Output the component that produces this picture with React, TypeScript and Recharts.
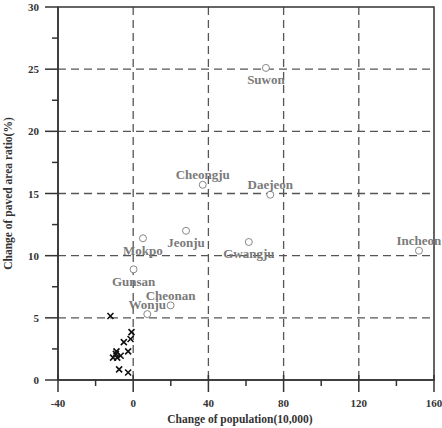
import { ScatterChart, Scatter, XAxis, YAxis, CartesianGrid, ReferenceArea, Label } from "recharts";

// labelled cities (population change in 10,000 / paved area ratio change in %)
const cities = ["Suwon", "Cheongju", "Daejeon", "Jeonju", "Mokpo", "Gwangju", "Incheon", "Gunsan", "Cheonan", "Wonju"];
const cityPop = [70.6, 37.0, 72.9, 28.1, 5.2, 61.5, 152.0, 0.2, 19.9, 7.5];
const cityPaved = [25.1, 15.7, 14.9, 12.0, 11.4, 11.1, 10.4, 8.9, 6.0, 5.3];

// unlabelled small cities near the origin
const otherPop = [-12.1, -0.9, -1.4, -5.0, -8.9, -2.7, -10.7, -8.5, -6.7, -9.2, -7.5, -2.7];
const otherPaved = [5.15, 3.85, 3.3, 3.05, 2.3, 2.3, 1.8, 1.8, 1.95, 2.1, 0.85, 0.6];

const xTicks = [-40, -20, 0, 20, 40, 60, 80, 100, 120, 140, 160];
const yTicks = [0, 2.5, 5, 7.5, 10, 12.5, 15, 17.5, 20, 22.5, 25, 27.5, 30];

// label placement: above or below the marker
const labelAbove: Record<string, boolean> = {
  Cheongju: true,
  Daejeon: true,
  Incheon: true,
  Cheonan: true,
  Wonju: true,
};

const cityData = cities.map((name, i) => ({ name, x: cityPop[i], y: cityPaved[i] }));
const otherData = otherPop.map((x, i) => ({ x, y: otherPaved[i] }));

const FONT = "'Liberation Serif', 'Times New Roman', serif";
const AXIS = "#333";

const XTick = (props: any) => {
  const { x, y, payload } = props;
  const major = payload.value % 40 === 0;
  return (
    <g>
      <line x1={x} x2={x} y1={major ? y - 5 : y} y2={y + (major ? 12 : 6)} stroke={AXIS} strokeWidth={1.5} />
      {major && (
        <text x={x} y={y + 23} textAnchor="middle" dominantBaseline="central" fontFamily={FONT} fontWeight="bold" fontSize={11} fill="#333">
          {payload.value}
        </text>
      )}
    </g>
  );
};

const YTick = (props: any) => {
  const { x, y, payload } = props;
  const major = payload.value % 5 === 0;
  return (
    <g>
      <line x1={x - (major ? 13 : 6)} x2={x} y1={y} y2={y} stroke={AXIS} strokeWidth={1.5} />
      {major && (
        <text x={x - 19} y={y} textAnchor="end" dominantBaseline="central" fontFamily={FONT} fontWeight="bold" fontSize={11} fill="#333">
          {payload.value}
        </text>
      )}
    </g>
  );
};

const CityMark = (props: any) => {
  const { cx, cy, payload } = props;
  const above = labelAbove[payload.name];
  return (
    <g>
      <circle cx={cx} cy={cy} r={3.5} fill="#fff" stroke="#888" strokeWidth={1} />
      <text
        x={cx}
        y={cy + (above ? -10 : 12)}
        textAnchor="middle"
        dominantBaseline="central"
        fontFamily={FONT}
        fontWeight="bold"
        fontSize={13}
        fill="#7a7a7a"
      >
        {payload.name}
      </text>
    </g>
  );
};

const CrossMark = (props: any) => {
  const { cx, cy } = props;
  const s = 3;
  return (
    <g stroke="#111" strokeWidth={1.6}>
      <line x1={cx - s} y1={cy - s} x2={cx + s} y2={cy + s} />
      <line x1={cx - s} y1={cy + s} x2={cx + s} y2={cy - s} />
    </g>
  );
};

export default function App() {
  return (
    <div style={{ position: "absolute", left: 0, top: 0, background: "#fff" }}>
      <ScatterChart width={442} height={428} margin={{ top: 7, right: 8, left: 0, bottom: 0 }}>
        <CartesianGrid
          stroke="#555"
          strokeWidth={1.3}
          strokeDasharray="8 5"
          verticalValues={[0, 40, 80, 120]}
          horizontalValues={[5, 10, 15, 20, 25]}
        />
        <XAxis
          dataKey="x"
          type="number"
          domain={[-40, 160]}
          ticks={xTicks}
          interval={0}
          height={48}
          tickSize={0}
          tickMargin={0}
          tickLine={false}
          tick={<XTick />}
          axisLine={{ stroke: AXIS, strokeWidth: 1.5 }}
        >
          <Label
            value="Change of population(10,000)"
            position="insideBottom"
            offset={5}
            dx={-6}
            style={{ fontFamily: FONT, fontWeight: "bold", fontSize: 11.5, fill: "#333" }}
          />
        </XAxis>
        <YAxis
          dataKey="y"
          type="number"
          domain={[0, 30]}
          ticks={yTicks}
          interval={0}
          width={58}
          tickSize={0}
          tickMargin={0}
          tickLine={false}
          tick={<YTick />}
          axisLine={{ stroke: AXIS, strokeWidth: 1.5 }}
        >
          <Label
            value="Change of paved area ratio(%)"
            angle={-90}
            position="insideLeft"
            offset={8}
            style={{ fontFamily: FONT, fontWeight: "bold", fontSize: 11.5, fill: "#333", textAnchor: "middle" }}
          />
        </YAxis>
        <ReferenceArea x1={-40} x2={160} y1={0} y2={30} fill="none" stroke={AXIS} strokeWidth={1.5} />
        <Scatter data={otherData} shape={<CrossMark />} isAnimationActive={false} />
        <Scatter data={cityData} shape={<CityMark />} isAnimationActive={false} />
      </ScatterChart>
    </div>
  );
}
